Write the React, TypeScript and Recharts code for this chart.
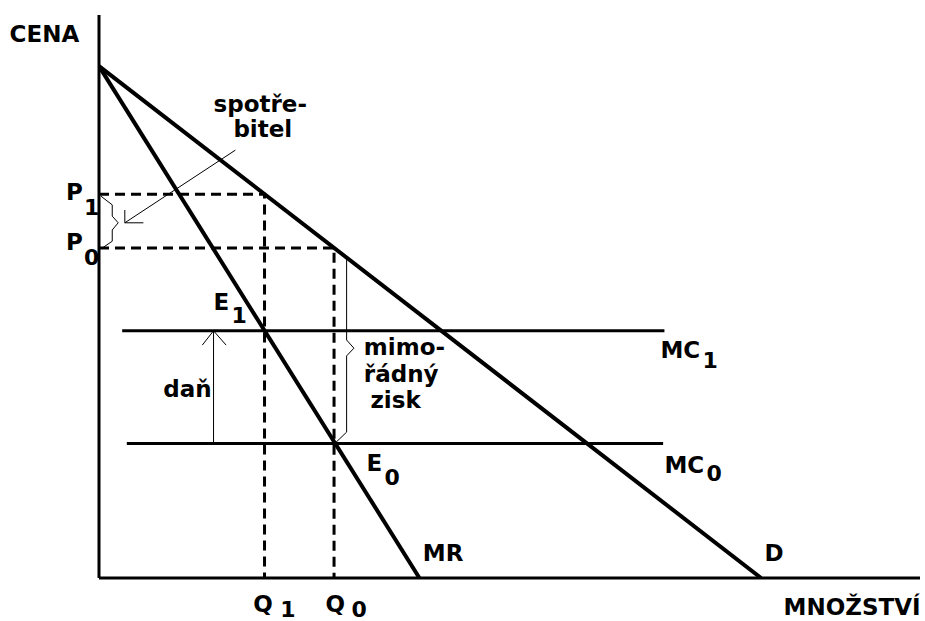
import React from 'react';
import { LineChart, Line, XAxis, YAxis, ReferenceDot, ReferenceLine } from 'recharts';

// demand and marginal revenue (quantity q, price p)
const demand = [{ q: 0, p: 100 }, { q: 100, p: 0 }];
const marginalRevenue = [{ q: 0, p: 100 }, { q: 48.4, p: 0 }];
const mc1 = [{ q: 3.5, p: 48.3 }, { q: 85.4, p: 48.3 }];
const mc0 = [{ q: 4.2, p: 26.3 }, { q: 85.2, p: 26.3 }];

const Q1 = 25;
const Q0 = 35.5;
const P1 = 75;
const P0 = 64.5;

const guide1 = [{ q: 0, p: P1 }, { q: Q1, p: P1 }, { q: Q1, p: 0 }];
const guide0 = [{ q: 0, p: P0 }, { q: Q0, p: P0 }, { q: Q0, p: 0 }];

// thin annotations: braces and arrows
const priceBrace = [
  { q: 0.3, p: 74.6 }, { q: 2.0, p: 72.9 }, { q: 2.0, p: 70.7 }, { q: 2.9, p: 69.4 },
  { q: 2.0, p: 68.0 }, { q: 2.0, p: 65.8 }, { q: 0.3, p: 64.3 },
];
const consumerArrow = [{ q: 20.6, p: 83.6 }, { q: 3.9, p: 69.4 }];
const consumerHead = [{ q: 6.7, p: 69.4 }, { q: 3.9, p: 69.4 }, { q: 3.9, p: 71.9 }];
const profitBrace = [
  { q: 35.9, p: 64.0 }, { q: 37.4, p: 62.5 }, { q: 37.4, p: 46.5 }, { q: 38.5, p: 44.9 },
  { q: 37.4, p: 43.4 }, { q: 37.4, p: 28.5 }, { q: 35.7, p: 26.4 },
];
const taxArrow = [{ q: 17.3, p: 26.3 }, { q: 17.3, p: 48.3 }];
const taxHead = [{ q: 15.6, p: 45.5 }, { q: 17.3, p: 48.3 }, { q: 19.2, p: 45.5 }];

const labels = [
  { q: -13.5, p: 104.7, text: 'CENA' },
  { q: 17.3, p: 91.1, text: 'spotře-' },
  { q: 20.3, p: 86.2, text: 'bitel' },
  { q: -5.0, p: 73.9, text: 'P', sub: '1', sx: 18, sy: 15 },
  { q: -5.0, p: 64.1, text: 'P', sub: '0', sx: 18, sy: 15 },
  { q: 17.3, p: 52.4, text: 'E', sub: '1', sx: 18, sy: 13 },
  { q: 9.7, p: 35.4, text: 'daň' },
  { q: 40.0, p: 43.6, text: 'mimo-' },
  { q: 40.0, p: 38.3, text: 'řádný' },
  { q: 41.0, p: 33.2, text: 'zisk' },
  { q: 84.8, p: 43.0, text: 'MC', sub: '1', sx: 42, sy: 10 },
  { q: 85.4, p: 20.5, text: 'MC', sub: '0', sx: 42, sy: 8 },
  { q: 40.4, p: 20.9, text: 'E', sub: '0', sx: 18, sy: 14 },
  { q: 48.9, p: 3.3, text: 'MR' },
  { q: 100.5, p: 3.3, text: 'D' },
  { q: 23.3, p: -6.6, text: 'Q', sub: '1', sx: 27, sy: 5 },
  { q: 34.2, p: -6.6, text: 'Q', sub: '0', sx: 26, sy: 5 },
  { q: 103.4, p: -7.2, text: 'MNOŽSTVÍ' },
];

const font = { fontFamily: '"DejaVu Sans", sans-serif', fontWeight: 700, fill: '#000' };

function series(data: { q: number; p: number }[], key: string, width: number, dash?: string) {
  return (
    <Line
      key={key}
      data={data}
      dataKey="p"
      type="linear"
      stroke="#000"
      strokeWidth={width}
      strokeDasharray={dash}
      dot={false}
      activeDot={false}
      isAnimationActive={false}
      strokeLinecap="butt"
      strokeLinejoin="miter"
    />
  );
}

export default function App() {
  return (
    <div style={{ width: 925, height: 621, background: '#fff' }}>
      <style>{'body{margin:0}'}</style>
      <LineChart width={925} height={621} margin={{ top: 15, right: 5, bottom: 43, left: 99 }}>
        <XAxis type="number" dataKey="q" domain={[0, 124]} allowDataOverflow hide />
        <YAxis type="number" domain={[0, 110]} allowDataOverflow hide />
        <ReferenceLine x={0} stroke="#000" strokeWidth={3} ifOverflow="visible" />
        <ReferenceLine y={0} stroke="#000" strokeWidth={3} ifOverflow="visible" />
        {series(guide1, 'g1', 3, '10 6')}
        {series(guide0, 'g0', 3, '10 6')}
        {series(mc1, 'mc1', 3)}
        {series(mc0, 'mc0', 3)}
        {series(demand, 'd', 4)}
        {series(marginalRevenue, 'mr', 4)}
        {series(priceBrace, 'pb', 1)}
        {series(consumerArrow, 'ca', 1)}
        {series(consumerHead, 'ch', 1)}
        {series(profitBrace, 'zb', 1)}
        {series(taxArrow, 'ta', 1)}
        {series(taxHead, 'th', 1)}
        {labels.map((l, i) => (
          <ReferenceDot
            key={i}
            x={l.q}
            y={l.p}
            r={0}
            ifOverflow="visible"
            shape={(props: any) => (
              <g>
                <text x={props.cx} y={props.cy} fontSize={23} {...font}>
                  {l.text}
                </text>
                {l.sub && (
                  <text x={props.cx + l.sx} y={props.cy + l.sy} fontSize={22} {...font}>
                    {l.sub}
                  </text>
                )}
              </g>
            )}
          />
        ))}
      </LineChart>
    </div>
  );
}
